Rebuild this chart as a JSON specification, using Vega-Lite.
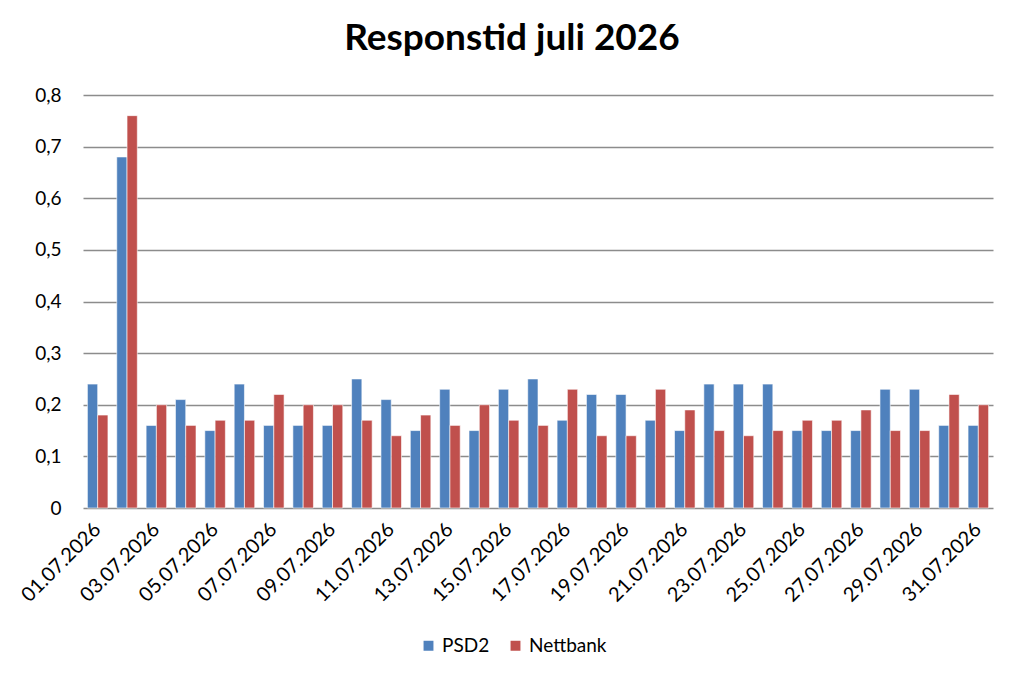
{
  "$schema": "https://vega.github.io/schema/vega-lite/v6.json",
  "autosize": "none",
  "width": 910,
  "height": 413,
  "padding": {"left": 83, "top": 95, "right": 31, "bottom": 177},
  "background": "white",
  "title": {
    "text": "Responstid juli 2026",
    "anchor": "middle",
    "font": "Lato",
    "fontSize": 37,
    "fontWeight": "bold",
    "color": "black",
    "offset": 28,
    "dx": -26
  },
  "config": {
    "view": {"stroke": null},
    "font": "Lato"
  },
  "data": {
    "values": [
      {"dato": "01.07.2026", "serie": "PSD2", "tid": 0.24}, {"dato": "01.07.2026", "serie": "Nettbank", "tid": 0.18},
      {"dato": "02.07.2026", "serie": "PSD2", "tid": 0.68}, {"dato": "02.07.2026", "serie": "Nettbank", "tid": 0.76},
      {"dato": "03.07.2026", "serie": "PSD2", "tid": 0.16}, {"dato": "03.07.2026", "serie": "Nettbank", "tid": 0.20},
      {"dato": "04.07.2026", "serie": "PSD2", "tid": 0.21}, {"dato": "04.07.2026", "serie": "Nettbank", "tid": 0.16},
      {"dato": "05.07.2026", "serie": "PSD2", "tid": 0.15}, {"dato": "05.07.2026", "serie": "Nettbank", "tid": 0.17},
      {"dato": "06.07.2026", "serie": "PSD2", "tid": 0.24}, {"dato": "06.07.2026", "serie": "Nettbank", "tid": 0.17},
      {"dato": "07.07.2026", "serie": "PSD2", "tid": 0.16}, {"dato": "07.07.2026", "serie": "Nettbank", "tid": 0.22},
      {"dato": "08.07.2026", "serie": "PSD2", "tid": 0.16}, {"dato": "08.07.2026", "serie": "Nettbank", "tid": 0.20},
      {"dato": "09.07.2026", "serie": "PSD2", "tid": 0.16}, {"dato": "09.07.2026", "serie": "Nettbank", "tid": 0.20},
      {"dato": "10.07.2026", "serie": "PSD2", "tid": 0.25}, {"dato": "10.07.2026", "serie": "Nettbank", "tid": 0.17},
      {"dato": "11.07.2026", "serie": "PSD2", "tid": 0.21}, {"dato": "11.07.2026", "serie": "Nettbank", "tid": 0.14},
      {"dato": "12.07.2026", "serie": "PSD2", "tid": 0.15}, {"dato": "12.07.2026", "serie": "Nettbank", "tid": 0.18},
      {"dato": "13.07.2026", "serie": "PSD2", "tid": 0.23}, {"dato": "13.07.2026", "serie": "Nettbank", "tid": 0.16},
      {"dato": "14.07.2026", "serie": "PSD2", "tid": 0.15}, {"dato": "14.07.2026", "serie": "Nettbank", "tid": 0.20},
      {"dato": "15.07.2026", "serie": "PSD2", "tid": 0.23}, {"dato": "15.07.2026", "serie": "Nettbank", "tid": 0.17},
      {"dato": "16.07.2026", "serie": "PSD2", "tid": 0.25}, {"dato": "16.07.2026", "serie": "Nettbank", "tid": 0.16},
      {"dato": "17.07.2026", "serie": "PSD2", "tid": 0.17}, {"dato": "17.07.2026", "serie": "Nettbank", "tid": 0.23},
      {"dato": "18.07.2026", "serie": "PSD2", "tid": 0.22}, {"dato": "18.07.2026", "serie": "Nettbank", "tid": 0.14},
      {"dato": "19.07.2026", "serie": "PSD2", "tid": 0.22}, {"dato": "19.07.2026", "serie": "Nettbank", "tid": 0.14},
      {"dato": "20.07.2026", "serie": "PSD2", "tid": 0.17}, {"dato": "20.07.2026", "serie": "Nettbank", "tid": 0.23},
      {"dato": "21.07.2026", "serie": "PSD2", "tid": 0.15}, {"dato": "21.07.2026", "serie": "Nettbank", "tid": 0.19},
      {"dato": "22.07.2026", "serie": "PSD2", "tid": 0.24}, {"dato": "22.07.2026", "serie": "Nettbank", "tid": 0.15},
      {"dato": "23.07.2026", "serie": "PSD2", "tid": 0.24}, {"dato": "23.07.2026", "serie": "Nettbank", "tid": 0.14},
      {"dato": "24.07.2026", "serie": "PSD2", "tid": 0.24}, {"dato": "24.07.2026", "serie": "Nettbank", "tid": 0.15},
      {"dato": "25.07.2026", "serie": "PSD2", "tid": 0.15}, {"dato": "25.07.2026", "serie": "Nettbank", "tid": 0.17},
      {"dato": "26.07.2026", "serie": "PSD2", "tid": 0.15}, {"dato": "26.07.2026", "serie": "Nettbank", "tid": 0.17},
      {"dato": "27.07.2026", "serie": "PSD2", "tid": 0.15}, {"dato": "27.07.2026", "serie": "Nettbank", "tid": 0.19},
      {"dato": "28.07.2026", "serie": "PSD2", "tid": 0.23}, {"dato": "28.07.2026", "serie": "Nettbank", "tid": 0.15},
      {"dato": "29.07.2026", "serie": "PSD2", "tid": 0.23}, {"dato": "29.07.2026", "serie": "Nettbank", "tid": 0.15},
      {"dato": "30.07.2026", "serie": "PSD2", "tid": 0.16}, {"dato": "30.07.2026", "serie": "Nettbank", "tid": 0.22},
      {"dato": "31.07.2026", "serie": "PSD2", "tid": 0.16}, {"dato": "31.07.2026", "serie": "Nettbank", "tid": 0.20}
    ]
  },
  "mark": {"type": "bar", "stroke": "white", "strokeWidth": 0.6},
  "encoding": {
    "x": {
      "field": "dato",
      "type": "nominal",
      "sort": null,
      "title": null,
      "scale": {"paddingInner": 0.3, "paddingOuter": 0.15},
      "axis": {
        "values": ["01.07.2026", "03.07.2026", "05.07.2026", "07.07.2026", "09.07.2026", "11.07.2026", "13.07.2026", "15.07.2026", "17.07.2026", "19.07.2026", "21.07.2026", "23.07.2026", "25.07.2026", "27.07.2026", "29.07.2026", "31.07.2026"],
        "labelAngle": -45,
        "labelAlign": "right",
        "labelBaseline": "middle",
        "labelFontSize": 20,
        "labelColor": "black",
        "labelPadding": 18,
        "ticks": false,
        "domain": false,
        "grid": false
      }
    },
    "xOffset": {"field": "serie", "type": "nominal", "sort": ["PSD2", "Nettbank"]},
    "y": {
      "field": "tid",
      "type": "quantitative",
      "title": null,
      "scale": {"domain": [0, 0.8], "nice": false},
      "axis": {
        "values": [0, 0.1, 0.2, 0.3, 0.4, 0.5, 0.6, 0.7, 0.8],
        "labelExpr": "replace(format(datum.value, '.1~f'), '.', ',')",
        "labelFontSize": 19,
        "labelColor": "black",
        "labelPadding": 22,
        "domain": false,
        "ticks": false,
        "gridColor": "#8c8c8c",
        "gridWidth": 1.3
      }
    },
    "color": {
      "field": "serie",
      "type": "nominal",
      "sort": ["PSD2", "Nettbank"],
      "scale": {"domain": ["PSD2", "Nettbank"], "range": ["#4F81BD", "#C0504D"]},
      "legend": {
        "title": null,
        "orient": "none",
        "direction": "horizontal",
        "legendX": 336,
        "legendY": 541,
        "symbolType": "square",
        "symbolSize": 130,
        "labelFontSize": 19,
        "labelColor": "black",
        "columnPadding": 16
      }
    }
  }
}
